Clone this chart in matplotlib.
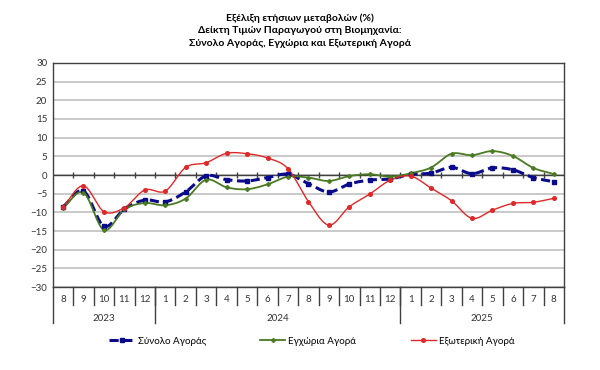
import matplotlib
matplotlib.use("Agg")
import matplotlib.pyplot as plt
import matplotlib.transforms as mtransforms
from matplotlib.lines import Line2D
import numpy as np

plt.rcParams['font.family'] = ['Lato', 'DejaVu Sans']

months = ["8", "9", "10", "11", "12",
          "1", "2", "3", "4", "5", "6", "7", "8", "9", "10", "11", "12",
          "1", "2", "3", "4", "5", "6", "7", "8"]
years = ["2023", "2024", "2025"]
year_counts = [5, 12, 8]

total = [-8.5, -4.3, -13.7, -9.1, -6.7,
         -7.2, -4.5, -0.2, -1.25, -1.6, -0.7, 0.2, -2.3, -4.55, -2.4, -1.35, -1.05,
         0.2, 0.5, 2.05, 0.35, 1.9, 1.4, -0.7, -1.8]
domestic = [-8.75, -4.7, -14.7, -9.2, -7.5,
            -8.1, -6.3, -1.25, -3.3, -3.8, -2.5, -0.45, -0.7, -1.6, -0.3, 0.2, -0.45,
            0.45, 2.0, 5.7, 5.3, 6.4, 5.1, 1.9, 0.25]
external = [-8.5, -2.9, -9.8, -8.75, -4.0,
            -4.3, 2.05, 3.3, 5.8, 5.7, 4.55, 1.7, -7.1, -13.4, -8.5, -5.1, -1.4,
            -0.3, -3.5, -6.9, -11.6, -9.4, -7.6, -7.3, -6.25]

labels = ["Σύνολο Αγοράς", "Εγχώρια Αγορά", "Εξωτερική Αγορά"]


def smooth(x, y, n=20):
    # catmull-rom curve through the points, like excel's smoothed line
    x = np.asarray(x, float)
    y = np.asarray(y, float)
    px = np.concatenate([[2 * x[0] - x[1]], x, [2 * x[-1] - x[-2]]])
    py = np.concatenate([[2 * y[0] - y[1]], y, [2 * y[-1] - y[-2]]])
    xs, ys = [], []
    t = np.linspace(0, 1, n, endpoint=False)
    for i in range(1, len(px) - 2):
        for p, out in ((px, xs), (py, ys)):
            p0, p1, p2, p3 = p[i - 1], p[i], p[i + 1], p[i + 2]
            out.extend(0.5 * (2 * p1 + (-p0 + p2) * t
                              + (2 * p0 - 5 * p1 + 4 * p2 - p3) * t ** 2
                              + (-p0 + 3 * p1 - 3 * p2 + p3) * t ** 3))
    xs.append(x[-1])
    ys.append(y[-1])
    return np.array(xs), np.array(ys)


fig = plt.figure(figsize=(6, 3.7), dpi=100)
ax = fig.add_axes([0.088, 0.224, 0.852, 0.606])

x = np.arange(len(months))
ax.set_xlim(-0.5, len(months) - 0.5)
ax.set_ylim(-30, 30)
ax.set_yticks(range(-30, 31, 5))
ax.tick_params(axis='y', length=0, labelsize=7, pad=4, colors='#333333')
ax.set_xticks([])
ax.yaxis.grid(True, color='#c0c0c0', linewidth=1.2)
ax.set_axisbelow(True)
for s in ax.spines.values():
    s.set_color('#404040')
    s.set_linewidth(1.0)

# zero axis with category ticks
ax.axhline(0, color='#404040', linewidth=1.0, zorder=1)
bounds = np.arange(0.5, len(months) - 1, 1.0)
ax.vlines(bounds, -0.7, 0.7, color='#404040', linewidth=1.0, zorder=1)

series = [
    (total, '#0a0a8c', (0, (3, 1.5)), 's', 3.2, 2.2),
    (domestic, '#4a7a22', '-', 'P', 2.5, 1.3),
    (external, '#e02828', '-', 'o', 2.6, 1.0),
]
handles = []
for (vals, col, ls, mk, ms, lw), lab in zip(series, labels):
    sx, sy = smooth(x, vals)
    ax.plot(sx, sy, color=col, linestyle=ls, linewidth=lw, zorder=3)
    ax.plot(x, vals, linestyle='none', marker=mk, markersize=ms, color=col, zorder=4)
    handles.append(Line2D([], [], color=col, linestyle=ls, linewidth=lw,
                          marker=mk, markersize=ms))

# multi-level category labels below the plot
trans = mtransforms.blended_transform_factory(ax.transData, ax.transAxes)
for xi, m in zip(x, months):
    ax.text(xi, -0.055, m, transform=trans, ha='center', va='center',
            fontsize=7, color='#333333')
for b in bounds:
    ax.plot([b, b], [0, -0.08], transform=trans, color='#404040',
            linewidth=1.0, clip_on=False)
start = 0
edges = [-0.5]
for yr, cnt in zip(years, year_counts):
    ax.text(start + (cnt - 1) / 2, -0.138, yr, transform=trans, ha='center',
            va='center', fontsize=7, color='#333333')
    start += cnt
    edges.append(start - 0.5)
for e in edges:
    ax.plot([e, e], [0, -0.16], transform=trans, color='#404040',
            linewidth=1.0, clip_on=False)

fig.text(0.5, 0.952, "Εξέλιξη ετήσιων μεταβολών (%)", ha='center', va='center',
         fontsize=7.5, fontweight='bold')
fig.text(0.5, 0.917, "Δείκτη Τιμών Παραγωγού στη Βιομηχανία:", ha='center',
         va='center', fontsize=7.5, fontweight='bold')
fig.text(0.5, 0.882, "Σύνολο Αγοράς, Εγχώρια και Εξωτερική Αγορά", ha='center',
         va='center', fontsize=7.5, fontweight='bold')

fig.legend(handles, labels, loc='center', bbox_to_anchor=(0.52, 0.078), ncol=3,
           frameon=False, fontsize=7, handlelength=2.6, handletextpad=0.3,
           columnspacing=5.6)

fig.savefig("out.png", dpi=100)
